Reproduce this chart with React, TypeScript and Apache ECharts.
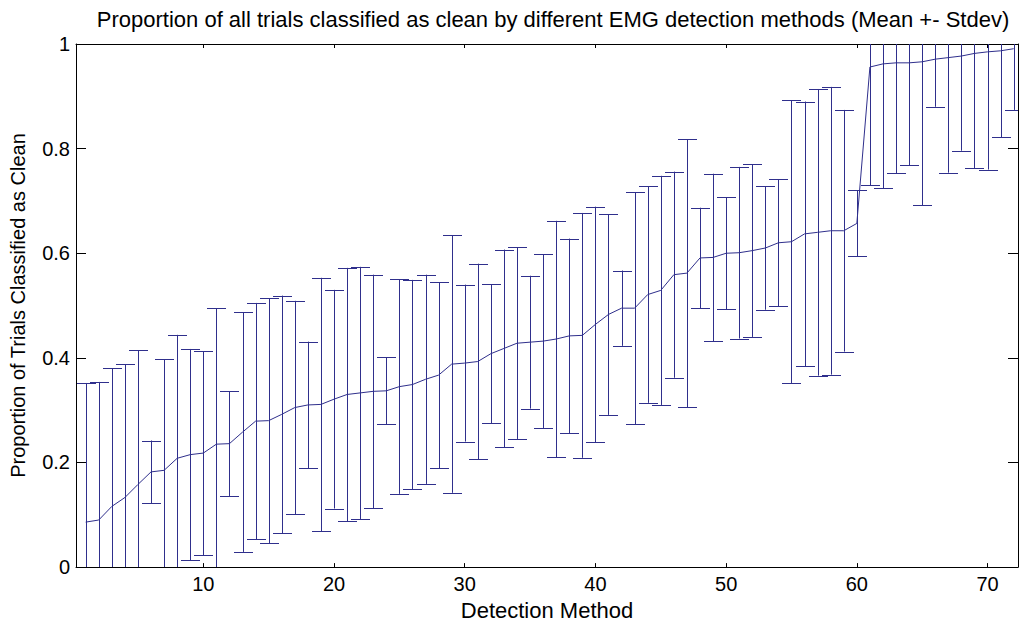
import React, { useEffect, useRef } from "react";
import * as echarts from "echarts";

const methods: number[] = Array.from({ length: 72 }, (_, i) => i + 1);

const meanValues: number[] = [
  0.086, 0.090, 0.116, 0.133, 0.158, 0.182, 0.185, 0.208, 0.215, 0.218,
  0.235, 0.236, 0.258, 0.279, 0.280, 0.292, 0.305, 0.310, 0.311, 0.321,
  0.330, 0.333, 0.336, 0.337, 0.345, 0.349, 0.359, 0.367, 0.388, 0.390,
  0.393, 0.408, 0.418, 0.428, 0.430, 0.432, 0.436, 0.442, 0.443, 0.464,
  0.483, 0.495, 0.495, 0.521, 0.529, 0.559, 0.562, 0.591, 0.592, 0.600,
  0.601, 0.605, 0.610, 0.620, 0.622, 0.637, 0.640, 0.643, 0.643, 0.657,
  0.956, 0.962, 0.964, 0.964, 0.966, 0.971, 0.974, 0.977, 0.982, 0.985,
  0.987, 0.991,
];

const stdevValues: number[] = [
  0.266, 0.264, 0.264, 0.255, 0.257, 0.060, 0.212, 0.236, 0.202, 0.195,
  0.260, 0.100, 0.229, 0.226, 0.234, 0.227, 0.204, 0.121, 0.242, 0.209,
  0.242, 0.241, 0.223, 0.064, 0.205, 0.200, 0.200, 0.178, 0.246, 0.150,
  0.187, 0.133, 0.189, 0.183, 0.127, 0.166, 0.226, 0.186, 0.234, 0.225,
  0.192, 0.072, 0.222, 0.207, 0.219, 0.197, 0.256, 0.096, 0.160, 0.107,
  0.164, 0.165, 0.118, 0.121, 0.270, 0.253, 0.274, 0.275, 0.231, 0.063,
  0.226, 0.238, 0.211, 0.196, 0.274, 0.091, 0.220, 0.181, 0.219, 0.225,
  0.165, 0.117,
];

const xTickValues: number[] = [10, 20, 30, 40, 50, 60, 70];

const TITLE =
  "Proportion of all trials classified as clean by different EMG detection methods (Mean +- Stdev)";
const X_NAME = "Detection Method";
const Y_NAME = "Proportion of Trials Classified as Clean";

const X_MIN = 0.26;
const X_MAX = 72.33;
const Y_MIN = 0;
const Y_MAX = 1;

const LINE_COLOR = "#2f2f8c";
const FONT = "'Liberation Sans', Arial, sans-serif";

export default function App() {
  const ref = useRef<HTMLDivElement>(null);

  useEffect(() => {
    if (!ref.current) return;
    const chart = echarts.init(ref.current, undefined, { renderer: "svg" });

    const meanData = methods.map((m, i) => [m, meanValues[i]]);
    const errData = methods.map((m, i) => [
      m,
      meanValues[i] - stdevValues[i],
      meanValues[i] + stdevValues[i],
    ]);

    const snap = (v: number) => Math.round(v) + 0.5;

    const option: any = {
      animation: false,
      backgroundColor: "#ffffff",
      textStyle: { fontFamily: FONT },
      title: {
        text: TITLE,
        left: 548,
        top: 3,
        textAlign: "center",
        textStyle: {
          fontFamily: FONT,
          fontSize: 22,
          fontWeight: "normal",
          color: "#000",
        },
      },
      grid: { left: 76, right: 1, top: 44, bottom: 57, containLabel: false },
      xAxis: [
        {
          type: "value",
          position: "bottom",
          min: X_MIN,
          max: X_MAX,
          name: X_NAME,
          nameLocation: "middle",
          nameGap: 28,
          nameTextStyle: { fontFamily: FONT, fontSize: 22, color: "#000" },
          axisLine: { show: true, onZero: false, lineStyle: { color: "#000", width: 1 } },
          axisTick: {
            show: true,
            inside: true,
            length: 4,
            customValues: xTickValues,
            lineStyle: { color: "#000" },
          },
          axisLabel: {
            show: true,
            margin: 7,
            customValues: xTickValues,
            fontFamily: FONT,
            fontSize: 20,
            color: "#000",
          },
          splitLine: { show: false },
        },
        {
          type: "value",
          position: "top",
          min: X_MIN,
          max: X_MAX,
          axisLine: { show: true, onZero: false, lineStyle: { color: "#000", width: 1 } },
          axisTick: {
            show: true,
            inside: true,
            length: 4,
            customValues: xTickValues,
            lineStyle: { color: "#000" },
          },
          axisLabel: { show: false },
          splitLine: { show: false },
        },
      ],
      yAxis: [
        {
          type: "value",
          position: "left",
          min: Y_MIN,
          max: Y_MAX,
          interval: 0.2,
          name: Y_NAME,
          nameLocation: "middle",
          nameGap: 48,
          nameRotate: 90,
          nameTextStyle: { fontFamily: FONT, fontSize: 20, color: "#000" },
          axisLine: { show: true, onZero: false, lineStyle: { color: "#000", width: 1 } },
          axisTick: { show: true, inside: true, length: 10, lineStyle: { color: "#000" } },
          axisLabel: {
            show: true,
            margin: 6,
            fontFamily: FONT,
            fontSize: 20,
            color: "#000",
          },
          splitLine: { show: false },
        },
        {
          type: "value",
          position: "right",
          min: Y_MIN,
          max: Y_MAX,
          interval: 0.2,
          axisLine: { show: true, onZero: false, lineStyle: { color: "#000", width: 1 } },
          axisTick: { show: true, inside: true, length: 10, lineStyle: { color: "#000" } },
          axisLabel: { show: false },
          splitLine: { show: false },
        },
      ],
      series: [
        {
          type: "custom",
          name: "stdev",
          xAxisIndex: 0,
          yAxisIndex: 0,
          clip: true,
          data: errData,
          encode: { x: 0, y: [1, 2] },
          renderItem: (params: any, api: any) => {
            const x = api.value(0);
            const lo = api.value(1);
            const hi = api.value(2);
            const loC = Math.max(lo, Y_MIN);
            const hiC = Math.min(hi, Y_MAX);
            const pLo = api.coord([x, loC]);
            const pHi = api.coord([x, hiC]);
            const px = snap(pLo[0]);
            const hw = 9.5;
            const style = { stroke: LINE_COLOR, lineWidth: 1, fill: "none" };
            const children: any[] = [
              {
                type: "line",
                shape: { x1: px, y1: pLo[1], x2: px, y2: pHi[1] },
                style,
              },
            ];
            if (hi <= Y_MAX) {
              const y = snap(pHi[1]);
              children.push({
                type: "line",
                shape: { x1: px - hw, y1: y, x2: px + hw, y2: y },
                style,
              });
            }
            if (lo >= Y_MIN) {
              const y = snap(pLo[1]);
              children.push({
                type: "line",
                shape: { x1: px - hw, y1: y, x2: px + hw, y2: y },
                style,
              });
            }
            return { type: "group", children };
          },
          z: 2,
        },
        {
          type: "line",
          name: "mean",
          xAxisIndex: 0,
          yAxisIndex: 0,
          data: meanData,
          showSymbol: false,
          symbol: "none",
          lineStyle: { color: LINE_COLOR, width: 1 },
          z: 3,
        },
      ],
    };

    chart.setOption(option);
    return () => {
      chart.dispose();
    };
  }, []);

  return (
    <div
      ref={ref}
      style={{ position: "absolute", left: 0, top: 0, width: 1019, height: 626, background: "#fff" }}
    />
  );
}
